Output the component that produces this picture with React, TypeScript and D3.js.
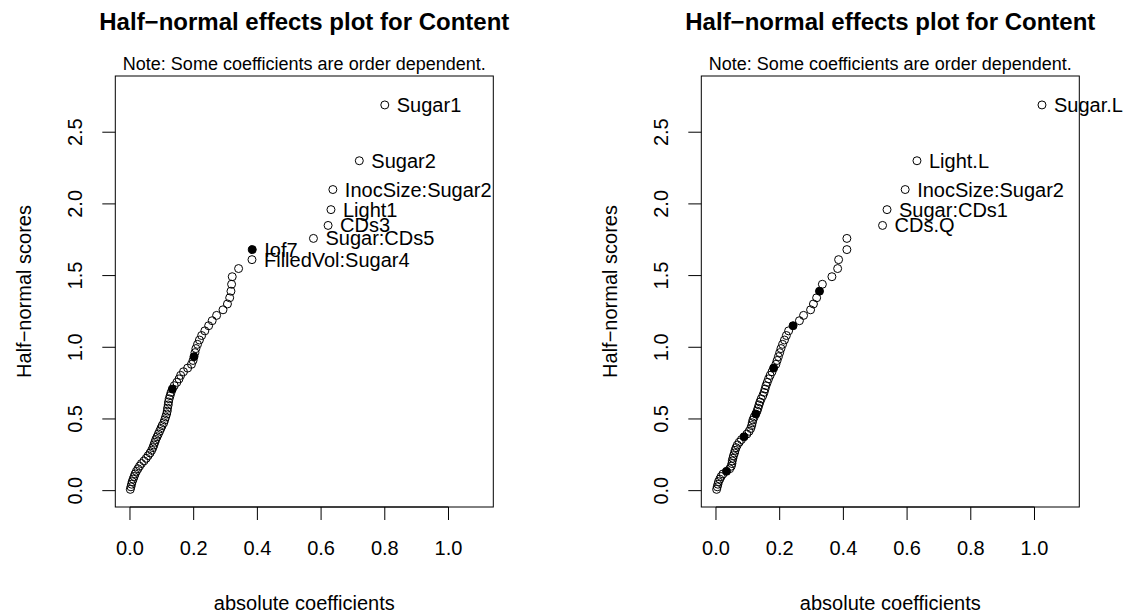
import React from "react";
import * as d3 from "d3";

// Half-normal scores (shared by both panels, 70 effects each)
const halfNormalScores = [
  0.0090, 0.0269, 0.0448, 0.0627, 0.0807, 0.0986, 0.1166, 0.1347, 0.1528, 0.1709,
  0.1891, 0.2074, 0.2257, 0.2441, 0.2626, 0.2812, 0.2999, 0.3186, 0.3375, 0.3565,
  0.3756, 0.3949, 0.4142, 0.4337, 0.4538, 0.4733, 0.4934, 0.5141, 0.5347, 0.5549,
  0.5756, 0.5978, 0.6184, 0.6404, 0.6627, 0.6854, 0.7085, 0.7320, 0.7554, 0.7796,
  0.8042, 0.8294, 0.8550, 0.8812, 0.9080, 0.9346, 0.9625, 0.9911, 1.0204, 1.0507,
  1.0821, 1.1144, 1.1503, 1.1853, 1.2224, 1.2613, 1.3021, 1.3452, 1.3911, 1.4395,
  1.4921, 1.5490, 1.6111, 1.6812, 1.7592, 1.8498, 1.9600, 2.1001, 2.3010, 2.6901,
];

// Sorted absolute coefficients, left panel
const leftCoefs = [
  0.001, 0.003, 0.005, 0.007, 0.010, 0.013, 0.016, 0.020, 0.025, 0.030,
  0.036, 0.044, 0.051, 0.057, 0.063, 0.068, 0.072, 0.075, 0.078, 0.081,
  0.085, 0.089, 0.093, 0.097, 0.101, 0.106, 0.109, 0.112, 0.115, 0.117,
  0.118, 0.120, 0.121, 0.123, 0.126, 0.129, 0.133, 0.139, 0.147, 0.154,
  0.159, 0.168, 0.181, 0.193, 0.198, 0.201, 0.204, 0.207, 0.212, 0.218,
  0.225, 0.235, 0.247, 0.258, 0.272, 0.292, 0.306, 0.313, 0.317, 0.319,
  0.321, 0.341, 0.383, 0.384, 0.576, 0.622, 0.631, 0.637, 0.720, 0.800,
];
// Labels of the largest effects (from the top down)
const leftLabels = ["Sugar1", "Sugar2", "InocSize:Sugar2", "Light1", "CDs3", "Sugar:CDs5", "Iof7", "FilledVol:Sugar4"];
// 1-based ranks of filled (order-dependent) points
const leftFilled = [64, 46, 37];

// Sorted absolute coefficients, right panel
const rightCoefs = [
  0.002, 0.004, 0.006, 0.008, 0.012, 0.016, 0.022, 0.033, 0.043, 0.048,
  0.050, 0.051, 0.053, 0.055, 0.058, 0.060, 0.063, 0.067, 0.073, 0.080,
  0.088, 0.097, 0.104, 0.109, 0.112, 0.114, 0.116, 0.120, 0.125, 0.129,
  0.132, 0.135, 0.138, 0.142, 0.147, 0.151, 0.154, 0.157, 0.161, 0.165,
  0.170, 0.176, 0.181, 0.188, 0.192, 0.196, 0.200, 0.204, 0.209, 0.215,
  0.221, 0.228, 0.242, 0.262, 0.275, 0.297, 0.306, 0.316, 0.325, 0.334,
  0.364, 0.382, 0.385, 0.411, 0.411, 0.523, 0.537, 0.594, 0.631, 1.0235,
];
const rightLabels = ["Sugar.L", "Light.L", "InocSize:Sugar2", "Sugar:CDs1", "CDs.Q"];
const rightFilled = [59, 53, 43, 29, 21, 8];

const xTicks = [0, 0.2, 0.4, 0.6, 0.8, 1.0];
const yTicks = [0, 0.5, 1.0, 1.5, 2.0, 2.5];

const titleText = "Half\u2212normal effects plot for Content";
const noteText = "Note: Some coefficients are order dependent.";
const xLabel = "absolute coefficients";
const yLabel = "Half\u2212normal scores";

const FONT = "'Liberation Sans', Arial, Helvetica, sans-serif";
const W = 1132;
const H = 616;

type PanelProps = {
  left: number;
  coefs: number[];
  labels: string[];
  filled: number[];
};

function Panel({ left, coefs, labels, filled }: PanelProps) {
  const boxW = 378;
  const top = 76;
  const bottom = 507;
  const x = d3.scaleLinear().domain([-0.0461, 1.1407]).range([left, left + boxW]);
  const y = d3.scaleLinear().domain([-0.114, 2.892]).range([bottom, top]);
  const n = coefs.length;
  const cx = left + boxW / 2;
  const cy = (top + bottom) / 2;
  const fs = 20;
  const tick = 13;
  return (
    <g fontFamily={FONT} fill="#000">
      <text x={cx} y={30} textAnchor="middle" fontSize={24} fontWeight="bold">{titleText}</text>
      <text x={cx} y={70} textAnchor="middle" fontSize={18}>{noteText}</text>
      <rect x={left} y={top} width={boxW} height={bottom - top} fill="none" stroke="#000" strokeWidth={1} />
      {/* x axis */}
      <line x1={x(xTicks[0])} x2={x(xTicks[xTicks.length - 1])} y1={bottom} y2={bottom} stroke="#000" />
      {xTicks.map((t) => (
        <g key={"xt" + t}>
          <line x1={x(t)} x2={x(t)} y1={bottom} y2={bottom + tick} stroke="#000" />
          <text x={x(t)} y={555} textAnchor="middle" fontSize={fs}>{d3.format(".1f")(t)}</text>
        </g>
      ))}
      {/* y axis */}
      {yTicks.map((t) => (
        <g key={"yt" + t}>
          <line x1={left - tick} x2={left} y1={y(t)} y2={y(t)} stroke="#000" />
          <text
            transform={`translate(${left - 33},${y(t)}) rotate(-90)`}
            textAnchor="middle"
            fontSize={fs}
          >
            {d3.format(".1f")(t)}
          </text>
        </g>
      ))}
      <text x={cx} y={610} textAnchor="middle" fontSize={fs}>{xLabel}</text>
      <text transform={`translate(${left - 84},${cy}) rotate(-90)`} textAnchor="middle" fontSize={fs}>{yLabel}</text>
      {/* points */}
      {coefs.map((c, i) => {
        const isFilled = filled.includes(i + 1);
        return (
          <circle
            key={"p" + i}
            cx={x(c)}
            cy={y(halfNormalScores[i])}
            r={4}
            fill={isFilled ? "#000" : "none"}
            stroke="#000"
            strokeWidth={1}
          />
        );
      })}
      {/* labels */}
      {labels.map((lab, k) => {
        const i = n - 1 - k;
        return (
          <text key={"l" + k} x={x(coefs[i]) + 12} y={y(halfNormalScores[i]) + 7} fontSize={fs}>
            {lab}
          </text>
        );
      })}
    </g>
  );
}

export default function App() {
  return (
    <svg
      width={W}
      height={H}
      viewBox={`0 0 ${W} ${H}`}
      style={{ position: "absolute", left: 0, top: 0, background: "#fff", display: "block" }}
    >
      <rect x={0} y={0} width={W} height={H} fill="#fff" />
      <Panel left={115.3} coefs={leftCoefs} labels={leftLabels} filled={leftFilled} />
      <Panel left={701.3} coefs={rightCoefs} labels={rightLabels} filled={rightFilled} />
    </svg>
  );
}
